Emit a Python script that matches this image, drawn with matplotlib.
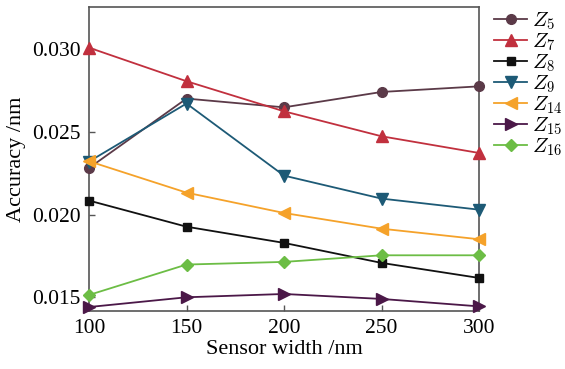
import numpy as np
import matplotlib
matplotlib.use("Agg")
import matplotlib.pyplot as plt

plt.rcParams['font.family'] = ['Liberation Serif', 'DejaVu Serif']
plt.rcParams['mathtext.fontset'] = 'cm'

# largeur du capteur (nm)
largeurs = [100, 150, 200, 250, 300]

# précision pour chaque terme de Zernike (nm)
z5 = [0.02282, 0.02702, 0.02649, 0.02742, 0.02776]
z7 = [0.03010, 0.02807, 0.02625, 0.02474, 0.02373]
z8 = [0.02085, 0.01927, 0.01829, 0.01708, 0.01617]
z9 = [0.02321, 0.02672, 0.02236, 0.02097, 0.02030]
z14 = [0.02323, 0.02133, 0.02010, 0.01915, 0.01851]
z15 = [0.01441, 0.01500, 0.01520, 0.01490, 0.01445]
z16 = [0.01514, 0.01698, 0.01714, 0.01754, 0.01754]

noms = ['5', '7', '8', '9', '14', '15', '16']
series = [z5, z7, z8, z9, z14, z15, z16]
couleurs = ['#5b3a48', '#c1303e', '#111111', '#1d5a76', '#f5a22a', '#4b1848', '#6cbd45']
marqueurs = ['o', '^', 's', 'v', '<', '>', 'D']
tailles = [7, 8, 6, 8, 8, 8, 6]

fig = plt.figure(figsize=(5.65, 3.69), dpi=100)
ax = fig.add_axes([89/565, 1 - 311/369, 390/565, 304/369])

for nom, y, c, m, t in zip(noms, series, couleurs, marqueurs, tailles):
    ax.plot(largeurs, y, color=c, marker=m, markersize=t, linewidth=1.3,
            clip_on=False, zorder=3, label=r'$Z_{%s}$' % nom)

ax.set_xlim(100, 300)
ax.set_ylim(0.01417, 0.03256)
ax.set_xticks([100, 150, 200, 250, 300])
ax.set_yticks([0.015, 0.020, 0.025, 0.030])
ax.set_yticklabels(['0.015', '0.020', '0.025', '0.030'])
ax.tick_params(direction='in', length=4, width=1, labelsize=15.5, colors='#555555',
               labelcolor='black', pad=6)
for s in ax.spines.values():
    s.set_color('#555555')
    s.set_linewidth(1.2)

ax.set_xlabel('Sensor width /nm', fontsize=16, labelpad=1)
ax.set_ylabel('Accuracy /nm', fontsize=16, labelpad=4)

# légende à droite, hors des axes
ax.legend(loc='upper left', bbox_to_anchor=(494/565, 1 - 10/369),
          bbox_transform=fig.transFigure, frameon=False,
          fontsize=15, handlelength=1.6, handletextpad=0.2, labelspacing=-0.02,
          borderpad=0, borderaxespad=0)

fig.savefig('out.png', dpi=100)
